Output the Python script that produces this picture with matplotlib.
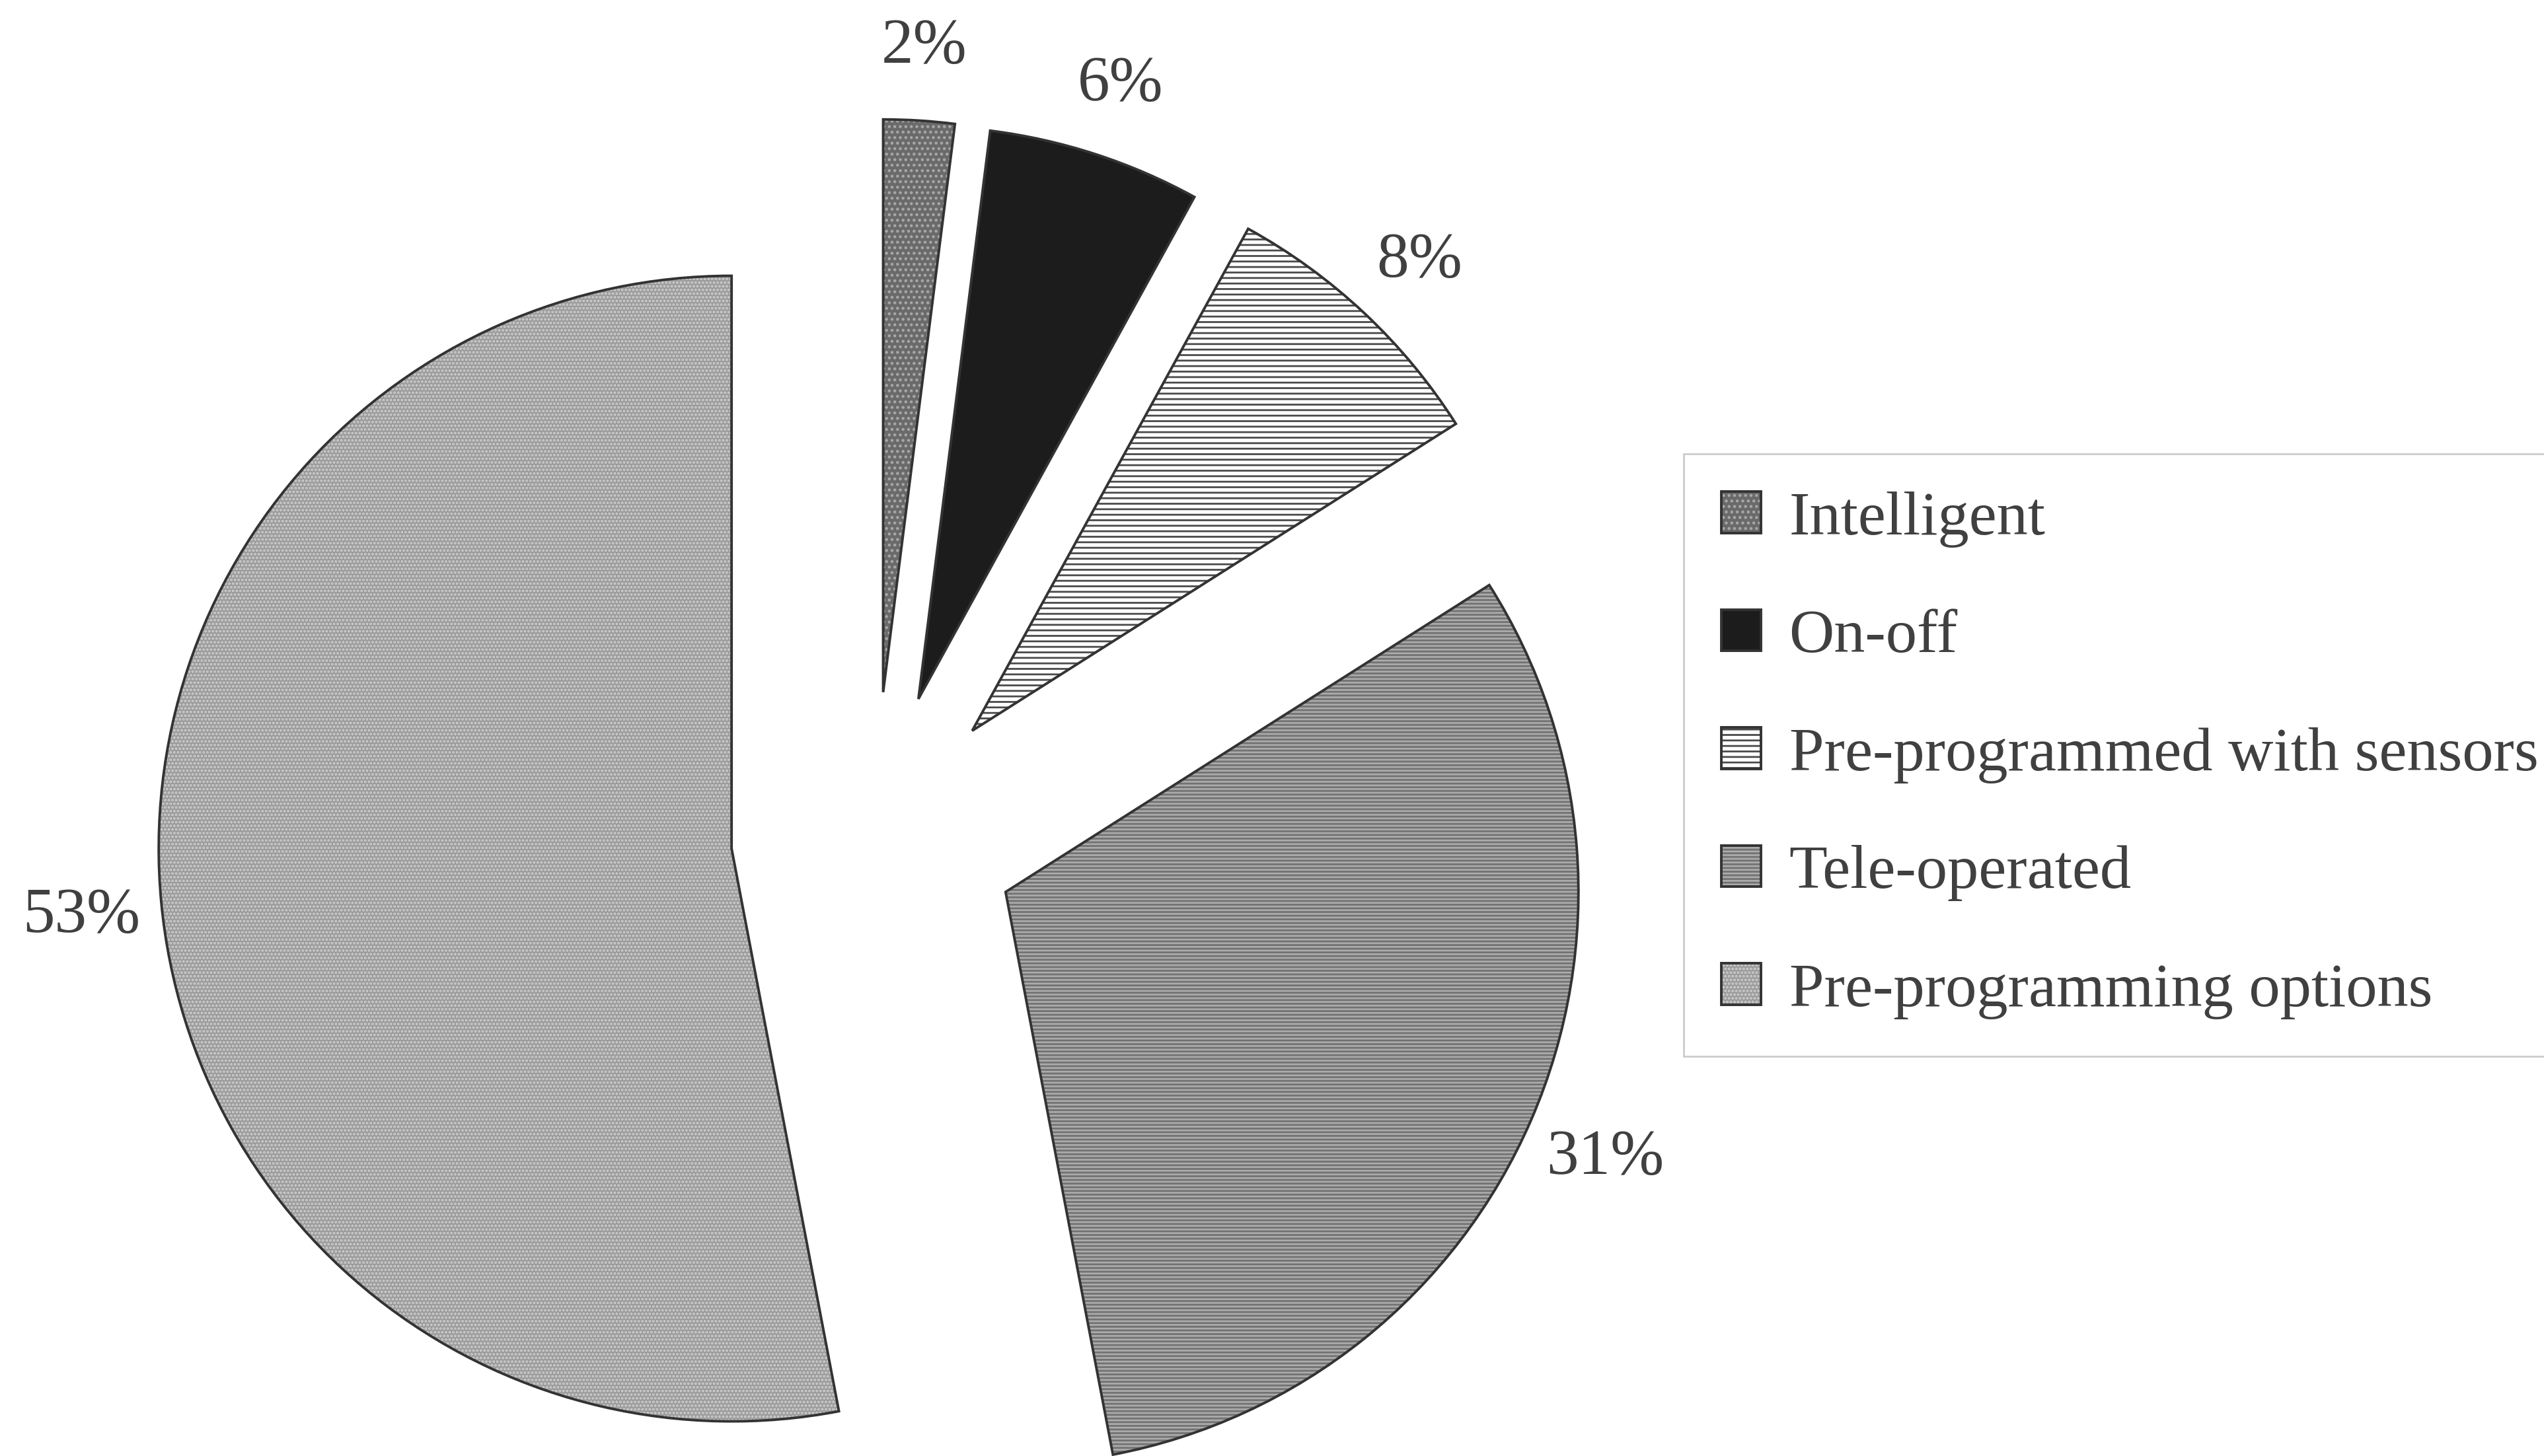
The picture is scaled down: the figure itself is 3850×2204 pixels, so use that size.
import matplotlib.pyplot as plt
from matplotlib.legend_handler import HandlerTuple

plt.rcParams['font.family'] = ['Liberation Serif', 'DejaVu Serif']
plt.rcParams['hatch.linewidth'] = 2.0

# data
labels = ['Intelligent', 'On-off', 'Pre-programmed with sensors',
          'Tele-operated', 'Pre-programming options']
shares = [2, 6, 8, 31, 53]

# grey-scale fills, hatch patterns and hatch colours
faces = ['#6a6a6a', '#1c1c1c', '#ffffff', '#ababab', '#9a9a9a']
hatches = ['..', '', '--', '---', '...']
hatch_cols = ['#a8a8a8', '#1c1c1c', '#4a4a4a', '#727272', '#cfcfcf']
explode = [0.25, 0.25, 0.25, 0.25, 0.25]

text_col = '#404040'

fig = plt.figure(figsize=(38.5, 22.04), dpi=100)
ax = fig.add_axes([0, 0, 1, 1])

# filled, hatched layer
fills, _, pcts = ax.pie(shares, explode=explode, startangle=90, counterclock=False,
                        colors=faces, autopct='%1.0f%%', pctdistance=1.14,
                        wedgeprops=dict(linewidth=0),
                        textprops=dict(fontsize=70, color=text_col))
for w, h, hc in zip(fills, hatches, hatch_cols):
    w.set_edgecolor(hc)
    w.set_hatch(h)
for t in pcts:
    t.set_verticalalignment('center_baseline')

# outline layer
outlines, _ = ax.pie(shares, explode=explode, startangle=90, counterclock=False,
                     wedgeprops=dict(fill=False, edgecolor='#333333', linewidth=2.8))

ax.set_xlim(-1.526, 2.915)
ax.set_ylim(-1.084, 1.458)
ax.set_aspect('auto')
ax.axis('off')

leg = ax.legend(list(zip(fills, outlines)), labels,
                handler_map={tuple: HandlerTuple()},
                loc='upper left', bbox_to_anchor=(2548 / 3850, 1 - 687 / 2204),
                bbox_transform=fig.transFigure, borderaxespad=0,
                fontsize=68, labelcolor=text_col,
                handlelength=0.64, handleheight=0.64, handletextpad=0.45,
                borderpad=0.6, labelspacing=0.99,
                fancybox=False, framealpha=1)
leg.get_frame().set_edgecolor('#cccccc')
leg.get_frame().set_linewidth(2)

fig.savefig('out.png', dpi=100, facecolor='white')
